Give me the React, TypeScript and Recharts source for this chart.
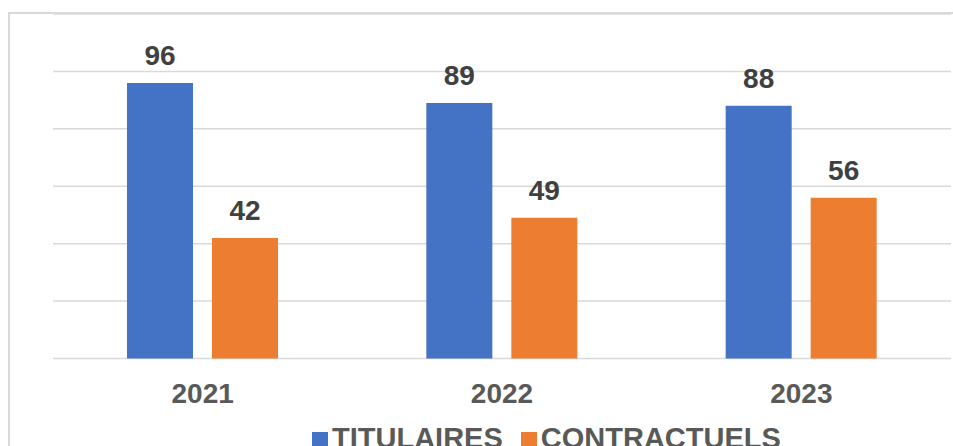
import React from 'react';
import { BarChart, Bar, XAxis, YAxis, CartesianGrid, Legend, LabelList } from 'recharts';

const years = ['2021', '2022', '2023'];
const titulaires = [96, 89, 88];
const contractuels = [42, 49, 56];
const yTicks = [0, 20, 40, 60, 80, 100, 120];
const seriesOrder = ['TITULAIRES', 'CONTRACTUELS'];

const data = years.map((year, i) => ({
  year,
  TITULAIRES: titulaires[i],
  CONTRACTUELS: contractuels[i],
}));

const FONT = 'Arial, "Liberation Sans", sans-serif';

const YearTick = (props: any) => {
  const { x, y, payload } = props;
  return (
    <text x={x} y={y} dy={36} textAnchor="middle" fontSize={28} fontWeight={700} fill="#595959" fontFamily={FONT}>
      {payload.value}
    </text>
  );
};

export default function App() {
  return (
    <div style={{ position: 'fixed', left: 0, top: 0, width: 953, height: 446, overflow: 'hidden', background: '#fff' }}>
      <div
        style={{
          position: 'absolute',
          left: 8,
          top: 12,
          width: 1000,
          height: 500,
          border: '2px solid #d9d9d9',
        }}
      />
      <div style={{ position: 'absolute', left: 0, top: 0 }}>
        <BarChart
          width={953}
          height={446}
          data={data}
          margin={{ top: 14, right: 2, left: 53, bottom: 57.5 }}
          barSize={66}
          barGap={19}
        >
          <CartesianGrid vertical={false} stroke="#d9d9d9" strokeWidth={1.5} />
          <YAxis hide domain={[0, 120]} ticks={yTicks} />
          <XAxis dataKey="year" axisLine={false} tickLine={false} height={30} tick={<YearTick />} interval={0} />
          <Legend
            verticalAlign="middle"
            iconType="square"
            iconSize={16}
            itemSorter={(item: any) => seriesOrder.indexOf(item.value)}
            wrapperStyle={{
              position: 'absolute',
              left: 312,
              top: 422,
              width: 'auto',
              fontSize: 29,
              fontWeight: 700,
              fontFamily: FONT,
              lineHeight: 'normal',
            }}
            formatter={(value: string) => (
              <span style={{ color: '#595959', marginRight: 8 }}>{value}</span>
            )}
          />
          <Bar dataKey="TITULAIRES" fill="#4472C4" isAnimationActive={false}>
            <LabelList dataKey="TITULAIRES" position="top" offset={18} fontSize={28} fontWeight={700} fill="#404040" fontFamily={FONT} />
          </Bar>
          <Bar dataKey="CONTRACTUELS" fill="#ED7D31" isAnimationActive={false}>
            <LabelList dataKey="CONTRACTUELS" position="top" offset={18} fontSize={28} fontWeight={700} fill="#404040" fontFamily={FONT} />
          </Bar>
        </BarChart>
      </div>
    </div>
  );
}
